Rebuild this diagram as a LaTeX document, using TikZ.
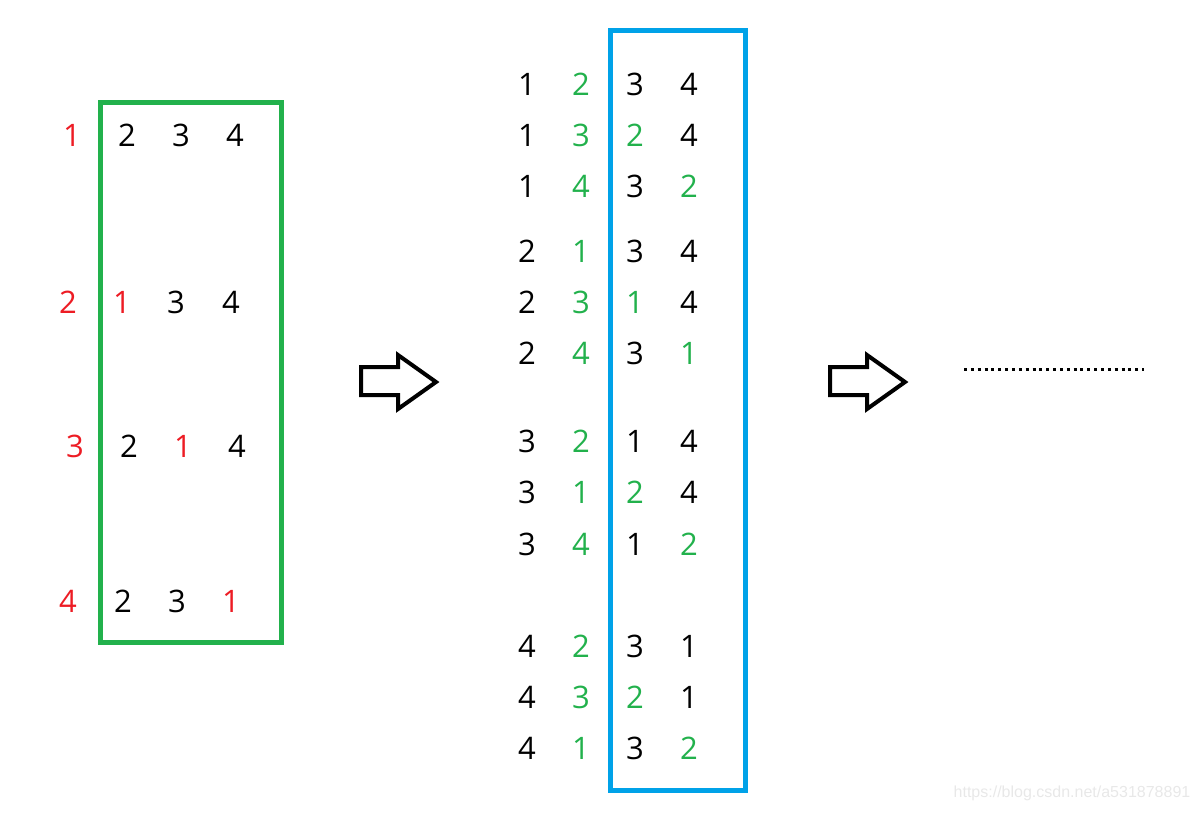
\documentclass[tikz,border=0pt]{standalone}
\usepackage{fontspec}
\setmainfont{Open Sans}
\newfontfamily\wmfont{Liberation Sans}
\definecolor{pred}{RGB}{237,28,36}
\definecolor{pgreen}{RGB}{34,177,76}
\definecolor{pblue}{RGB}{0,162,232}
\definecolor{wm}{RGB}{232,232,232}
\tikzset{
  dig/.style={inner sep=0pt, font=\fontsize{31}{31}\selectfont, text=black},
  rd/.style={dig, text=pred},
  gr/.style={dig, text=pgreen},
  blockarrow/.style={draw=black, line width=4pt, line join=miter, fill=white},
}
\begin{document}
\begin{tikzpicture}[x=1pt,y=-1pt]
\useasboundingbox (0,0) rectangle (1197,812);
% green box
\draw[pgreen, line width=5pt] (100,102) rectangle (281,642);
% left column
\node[rd] (a11) at (72,135) {1};
\node[dig] (a12) at (127,135) {2};
\node[dig] (a13) at (181,135) {3};
\node[dig] (a14) at (235,135) {4};
\node[rd] (a21) at (68,302) {2};
\node[rd] (a22) at (122,302) {1};
\node[dig] (a23) at (176,302) {3};
\node[dig] (a24) at (231,302) {4};
\node[rd] (a31) at (75,446) {3};
\node[dig] (a32) at (129,446) {2};
\node[rd] (a33) at (183,446) {1};
\node[dig] (a34) at (237,446) {4};
\node[rd] (a41) at (68,601) {4};
\node[dig] (a42) at (123,601) {2};
\node[dig] (a43) at (177,601) {3};
\node[rd] (a44) at (231,601) {1};
% blue box
\draw[pblue, line width=5pt] (610,30) rectangle (745,790);
% middle column
\foreach \y/\a/\b/\c/\cs/\d/\ds [count=\i] in {
 84/1/2/3/dig/4/dig,
 135/1/3/2/gr/4/dig,
 186/1/4/3/dig/2/gr,
 251/2/1/3/dig/4/dig,
 302/2/3/1/gr/4/dig,
 353/2/4/3/dig/1/gr,
 441/3/2/1/dig/4/dig,
 492/3/1/2/gr/4/dig,
 544/3/4/1/dig/2/gr,
 646/4/2/3/dig/1/dig,
 697/4/3/2/gr/1/dig,
 748/4/1/3/dig/2/gr}{
  \node[dig] (m\i a) at (527,\y) {\a};
  \node[gr] (m\i b) at (581,\y) {\b};
  \node[\cs] (m\i c) at (635,\y) {\c};
  \node[\ds] (m\i d) at (689,\y) {\d};
}
% block arrows
\draw[blockarrow] (361,367) -- (398,367) -- (398,355) -- (436,382) -- (398,409) -- (398,395) -- (361,395) -- cycle;
\draw[blockarrow] (830,367) -- (867,367) -- (867,355) -- (905,382) -- (867,409) -- (867,395) -- (830,395) -- cycle;
% dotted line
\coordinate (d1) at (964,369);
\coordinate (d2) at (1144,369);
\draw[line width=3pt, dash pattern=on 3pt off 3.85pt] (d1) -- (d2);
% watermark
\node[inner sep=0pt, text=wm, font=\wmfont\fontsize{16}{16}\selectfont] (wm) at (1072,793) {https://blog.csdn.net/a531878891};
\end{tikzpicture}
\end{document}
